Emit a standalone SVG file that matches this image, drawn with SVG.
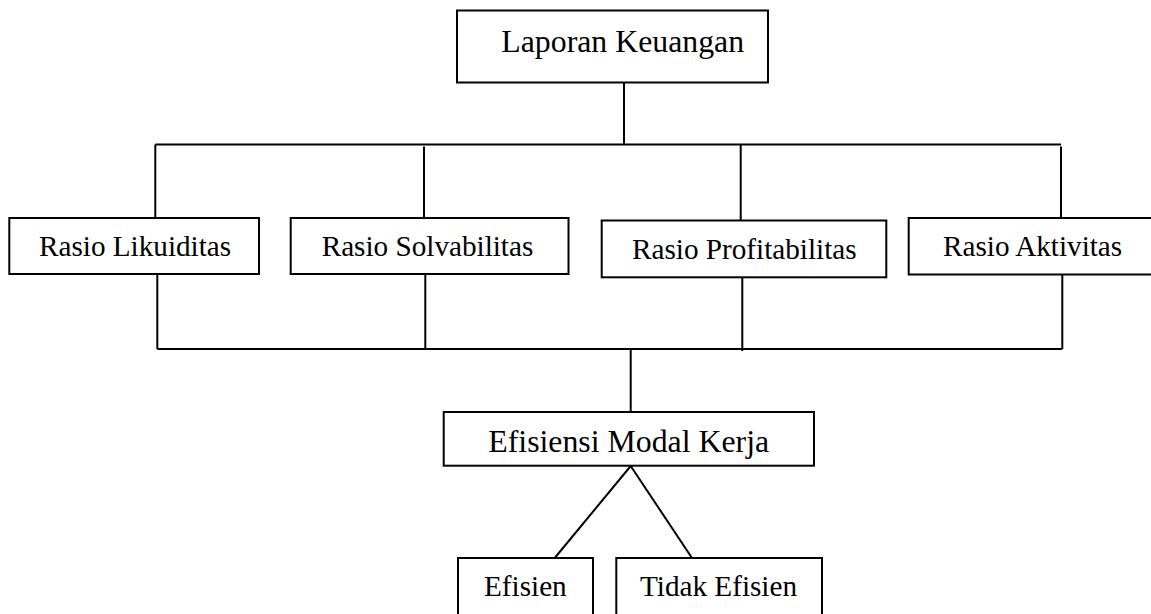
<svg xmlns="http://www.w3.org/2000/svg" width="1151" height="614" viewBox="0 0 1151 614">
<style>
.box{fill:#fff;stroke:#000;stroke-width:2}
.ln{fill:none;stroke:#000;stroke-width:2}
.t{font-family:"Liberation Serif","Times New Roman",serif;fill:#000}
.big{font-size:31.8px}
.sm{font-size:29.2px}
</style>
<rect width="1151" height="614" fill="#fff"/>
<g id="connectors">
<line class="ln" x1="624" y1="82.5" x2="624" y2="144.5"/>
<line class="ln" x1="155.3" y1="144.5" x2="1061" y2="144.5"/>
<line class="ln" x1="155.3" y1="144.5" x2="155.3" y2="218"/>
<line class="ln" x1="424" y1="146.5" x2="424" y2="218"/>
<line class="ln" x1="740.7" y1="144.5" x2="740.7" y2="220.5"/>
<line class="ln" x1="1061" y1="146.5" x2="1061" y2="218"/>
<line class="ln" x1="157.3" y1="274" x2="157.3" y2="349"/>
<line class="ln" x1="425.3" y1="274" x2="425.3" y2="349"/>
<line class="ln" x1="742.3" y1="277.3" x2="742.3" y2="351"/>
<line class="ln" x1="1062.3" y1="274.5" x2="1062.3" y2="349"/>
<line class="ln" x1="157.3" y1="349" x2="1062.3" y2="349"/>
<line class="ln" x1="630.7" y1="349" x2="630.7" y2="412"/>
<line class="ln" x1="630.7" y1="466" x2="554.7" y2="558"/>
<line class="ln" x1="630.7" y1="466" x2="692" y2="558"/>
</g>
<g id="laporan">
<rect class="box" x="457" y="10.5" width="311" height="72"/>
<text class="t big" x="501.3" y="51.7">Laporan Keuangan</text>
</g>
<g id="likuiditas">
<rect class="box" x="9.3" y="218" width="249.7" height="56"/>
<text class="t sm" x="39" y="256">Rasio Likuiditas</text>
</g>
<g id="solvabilitas">
<rect class="box" x="290.7" y="218" width="277.8" height="56"/>
<text class="t sm" x="321.7" y="256">Rasio Solvabilitas</text>
</g>
<g id="profitabilitas">
<rect class="box" x="601.7" y="220.5" width="284.6" height="56.8"/>
<text class="t sm" x="632" y="259.4">Rasio Profitabilitas</text>
</g>
<g id="aktivitas">
<rect class="box" x="908.7" y="218" width="250" height="56.5"/>
<text class="t sm" x="943" y="256">Rasio Aktivitas</text>
</g>
<g id="efisiensi">
<rect class="box" x="443.7" y="412" width="370.3" height="53.7"/>
<text class="t big" x="488.3" y="451.7">Efisiensi Modal Kerja</text>
</g>
<g id="efisien">
<rect class="box" x="458" y="558" width="135" height="70"/>
<text class="t sm" x="484" y="595.5">Efisien</text>
</g>
<g id="tidak-efisien">
<rect class="box" x="616.3" y="558" width="205.7" height="70"/>
<text class="t sm" x="640" y="595.5">Tidak Efisien</text>
</g>
</svg>
